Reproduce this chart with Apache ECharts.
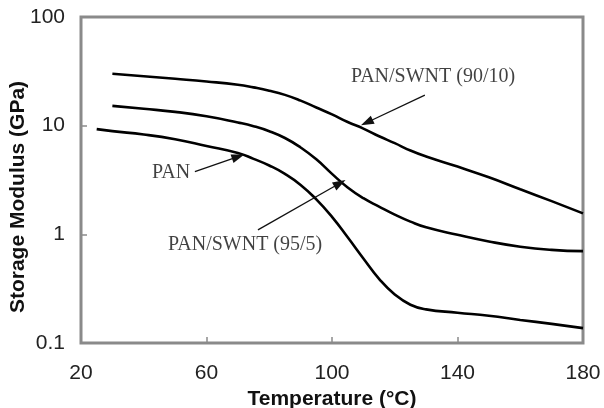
<!DOCTYPE html>
<html>
<head>
<meta charset="utf-8">
<script src="https://cdn.jsdelivr.net/npm/echarts@6/dist/echarts.min.js"></script>
<style>
html, body { margin: 0; padding: 0; background: #fff; }
#chart { width: 604px; height: 408px; }
</style>
</head>
<body>
<div id="chart"></div>
<script>
// temperatures (°C) and storage modulus (GPa)
var tempPan = [25, 30, 40, 50, 60, 70, 75, 80, 85, 90, 95, 100, 105, 110, 115, 120, 125, 130, 140, 150, 160, 170, 180];
var pan = [9.3, 8.9, 8.3, 7.5, 6.5, 5.6, 4.95, 4.3, 3.6, 2.85, 2.1, 1.45, 0.94, 0.6, 0.39, 0.28, 0.225, 0.204, 0.19, 0.178, 0.163, 0.15, 0.137];

var tempComp = [30, 40, 50, 60, 70, 75, 80, 85, 90, 95, 100, 105, 110, 115, 120, 125, 130, 140, 150, 160, 170, 180];
var swnt5 = [15.2, 14.3, 13.4, 12.2, 10.7, 9.9, 8.9, 7.7, 6.3, 4.9, 3.6, 2.7, 2.15, 1.8, 1.52, 1.31, 1.16, 0.99, 0.86, 0.77, 0.72, 0.70];
var swnt10 = [30, 28.5, 27, 25.5, 23.8, 22.5, 21, 19.2, 17, 14.7, 12.7, 10.8, 9.4, 8.0, 6.9, 5.9, 5.2, 4.2, 3.35, 2.6, 2.02, 1.56];

// annotation labels [temp, modulus, text] and arrows [from, to]
var labels = [
    [132.2, 28.1, 'PAN/SWNT (90/10)'],
    [48.7, 3.67, 'PAN'],
    [72.3, 0.80, 'PAN/SWNT (95/5)']
];
var arrows = [
    [[129.6, 19.1], [111.1, 10.7]],
    [[56.3, 3.78], [70.1, 5.19]],
    [[76.4, 1.10], [102.5, 2.95]]
];

function pairs(xs, ys) {
    var out = [];
    for (var i = 0; i < xs.length; i++) out.push([xs[i], ys[i]]);
    return out;
}

var sans = 'Liberation Sans, Arial, sans-serif';
var serif = 'Liberation Serif, Times New Roman, serif';
var axisGray = '#8a8a8a';

function curve(name, data) {
    return {
        name: name,
        type: 'line',
        data: data,
        smooth: 0.5,
        showSymbol: false,
        lineStyle: { color: '#000', width: 2.6 },
        silent: true
    };
}

var chart = echarts.init(document.getElementById('chart'));
chart.setOption({
    animation: false,
    backgroundColor: '#fff',
    grid: {
        left: 81, right: 21, top: 17, bottom: 65,
        outerBoundsMode: 'none',
        containLabel: false,
        show: true, borderColor: axisGray, borderWidth: 3
    },
    xAxis: {
        type: 'value',
        min: 20, max: 180, interval: 40,
        name: 'Temperature (°C)',
        nameLocation: 'middle',
        nameGap: 46,
        nameMoveOverlap: false,
        nameTextStyle: { fontFamily: sans, fontWeight: 'bold', fontSize: 21, color: '#111' },
        axisLine: { show: false },
        axisTick: { inside: true, length: 6, lineStyle: { color: axisGray, width: 1.5 } },
        axisLabel: { fontFamily: sans, fontSize: 21, color: '#222', margin: 20 },
        splitLine: { show: false }
    },
    yAxis: {
        type: 'log',
        logBase: 10,
        min: 0.1, max: 100,
        name: 'Storage Modulus (GPa)',
        nameLocation: 'middle',
        nameGap: 52,
        nameMoveOverlap: false,
        nameTextStyle: { fontFamily: sans, fontWeight: 'bold', fontSize: 21, color: '#111', padding: [0, 34, 0, 0] },
        axisLine: { show: false },
        axisTick: { inside: true, length: 6, lineStyle: { color: axisGray, width: 1.5 } },
        axisLabel: {
            fontFamily: sans, fontSize: 21, color: '#222', margin: 16,
            formatter: function (v) { return v < 1 ? v.toFixed(1) : String(Math.round(v)); }
        },
        splitLine: { show: false }
    },
    series: [
        curve('PAN', pairs(tempPan, pan)),
        curve('PAN/SWNT (95/5)', pairs(tempComp, swnt5)),
        curve('PAN/SWNT (90/10)', pairs(tempComp, swnt10)),
        {
            name: 'notes',
            type: 'scatter',
            silent: true,
            symbolSize: 1,
            itemStyle: { color: 'rgba(0,0,0,0)' },
            data: labels,
            label: {
                show: true,
                position: 'inside',
                formatter: function (p) { return p.data[2]; },
                fontFamily: serif,
                fontSize: 20,
                color: '#111'
            },
            markLine: {
                silent: true,
                symbol: ['none', 'triangle'],
                symbolSize: [9, 13],
                label: { show: false },
                lineStyle: { color: '#111', width: 1.3, type: 'solid' },
                data: arrows.map(function (a) {
                    return [{ coord: a[0] }, { coord: a[1] }];
                })
            }
        }
    ]
});
</script>
</body>
</html>
